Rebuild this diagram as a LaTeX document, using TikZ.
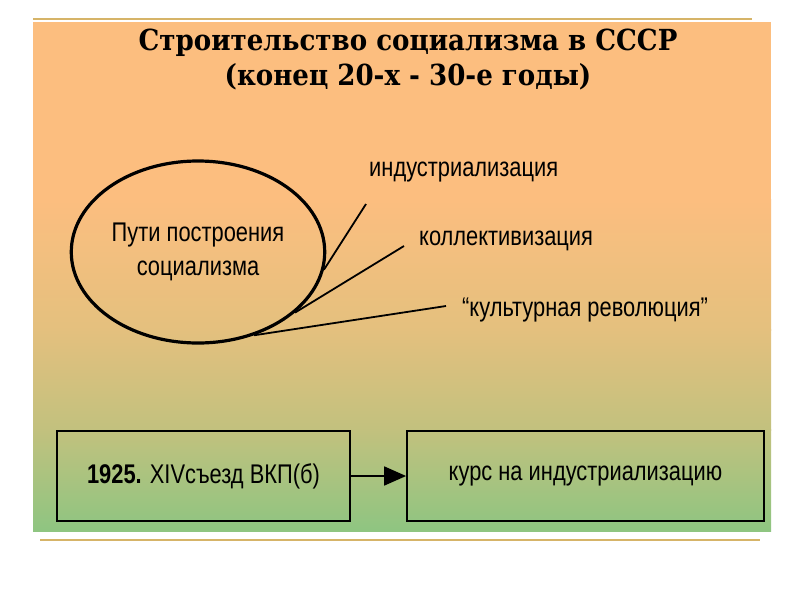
\documentclass[tikz,border=0pt]{standalone}
\usepackage{fontspec}
\setmainfont[FakeStretch=0.81]{Liberation Sans}
\newfontfamily\titlefont[FakeStretch=0.9]{DejaVu Serif}
\usetikzlibrary{arrows.meta,shapes.geometric}
\definecolor{bgorange}{HTML}{FCBE7F}
\definecolor{bgmid}{HTML}{E4C07E}
\definecolor{bgolive}{HTML}{C2C17E}
\definecolor{bggreen}{HTML}{8EC581}
\definecolor{goldline}{HTML}{D6B468}
\begin{document}
\begin{tikzpicture}[x=1pt,y=-1pt,
  txt/.style={font=\fontsize{27}{32}\selectfont},
  lbl/.style={txt, inner sep=0pt, anchor=west},
  boxnode/.style={draw, line width=1.8pt, inner sep=0pt, txt},
  conn/.style={line width=1.8pt},
  goldrule/.style={goldline, line width=2pt},
  titletxt/.style={font=\titlefont\bfseries\fontsize{29}{32}\selectfont, inner sep=0pt}]
\useasboundingbox (0,0) rectangle (800,600);
\fill[white] (0,0) rectangle (800,600);
% background
\fill[bgorange] (33,22) rectangle (771,200);
\shade[top color=bgorange, bottom color=bgmid] (33,199.5) rectangle (771,330);
\shade[top color=bgmid, bottom color=bgolive] (33,329.5) rectangle (771,430);
\shade[top color=bgolive, bottom color=bggreen] (33,429.5) rectangle (771,531);
\draw[goldrule] (33,19) -- (752,19);
\draw[goldrule] (40,540) -- (760,540);
% title
\node[titletxt] (t1) at (408,43) {Строительство социализма в СССР};
\node[titletxt] (t2) at (408,77) {(конец 20-х - 30-е годы)};
% ellipse
\node[ellipse, draw, line width=3.2pt, minimum width=244pt, minimum height=182pt, align=center,
  txt, font=\fontsize{27}{34}\selectfont] (ell) at (198,252) {Пути построения\\социализма};
% labels
\node[lbl] (ind) at (369,172) {индустриализация};
\node[lbl] (kol) at (419,241) {коллективизация};
\node[lbl] (kul) at (462,310) {“культурная революция”};
\coordinate (e1) at (366,204);
\coordinate (e2) at (404,246);
\coordinate (e3) at (446,306);
\draw[conn] (ell.-8) -- (e1);
\draw[conn] (ell.-32) -- (e2);
\draw[conn] (ell.-56) -- (e3);
% boxes
\node[boxnode, minimum width=293pt, minimum height=90pt] (b1) at (203.5,476) {\textbf{1925.} XIVсъезд ВКП(б)};
\node[boxnode, minimum width=357pt, minimum height=90pt] (b2) at (585.5,476) {курс на индустриализацию};
\draw[conn, -{Triangle[length=22pt,width=19pt]}] (b1.east) -- (b2.west);
\end{tikzpicture}
\end{document}
